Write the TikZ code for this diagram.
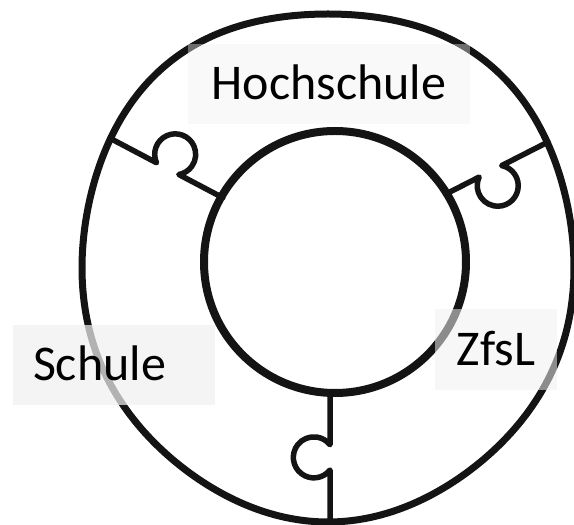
\documentclass[tikz,border=0pt]{standalone}
\usepackage{fontspec}
\setmainfont{Carlito}
\usepackage{xcolor}
\definecolor{inkblack}{RGB}{20,20,20}
\definecolor{boxgray}{RGB}{240,240,240}
\usepackage{tikz}
\usetikzlibrary{positioning}
\tikzset{
  ringline/.style={draw=inkblack,line width=7pt,line join=round},
  cutline/.style={draw=inkblack,line width=5.5pt,line join=round,line cap=round},
  labelbox/.style={rectangle,fill=boxgray,text=black,text opacity=1,inner sep=0pt,
    font=\fontsize{50}{60}\selectfont,text height=32pt,text depth=0pt},
}

\begin{document}
\begin{tikzpicture}[x=1pt,y=1pt,
    declare function={eggk(\t)=sin(2*\t)*sin(2*\t)*(0.01+0.035*sin(\t));}]
  \useasboundingbox (0,0) rectangle (574,525);
  % Ring
  \draw[ringline] plot[domain=0:360,samples=145,smooth cycle,variable=\t]
    ({328+246*cos(\t)*(1+eggk(\t))},{257+254*sin(\t)*(1+eggk(\t))});
  \draw[ringline,line width=8pt] (335,263) circle[radius=131];
  % Puzzle-Schnitte
  \foreach \px/\py/\ang/\len in {110.5/386.5/-27.8/127, 548/383/207/115, 330/3/90/130}{
    \begin{scope}[shift={(\px,\py)},rotate=\ang]
      \draw[cutline] (0,0) -- (52,0) arc[start angle=232,end angle=-52,radius=20.5] -- (\len,0);
    \end{scope}
  }
  % Beschriftung
  \node[labelbox,fill opacity=0.4,minimum width=282pt,minimum height=80pt] (hs) at (329,441) {Hochschule};
  \node[labelbox,fill opacity=0.72,minimum height=80pt,text width=162pt,inner xsep=20pt,align=left] (sch) at (114,160) {Schule};
  \node[labelbox,fill opacity=0.55,minimum width=122pt,minimum height=81pt] (zfsl) at (496,175.5) {ZfsL};
\end{tikzpicture}
\end{document}
